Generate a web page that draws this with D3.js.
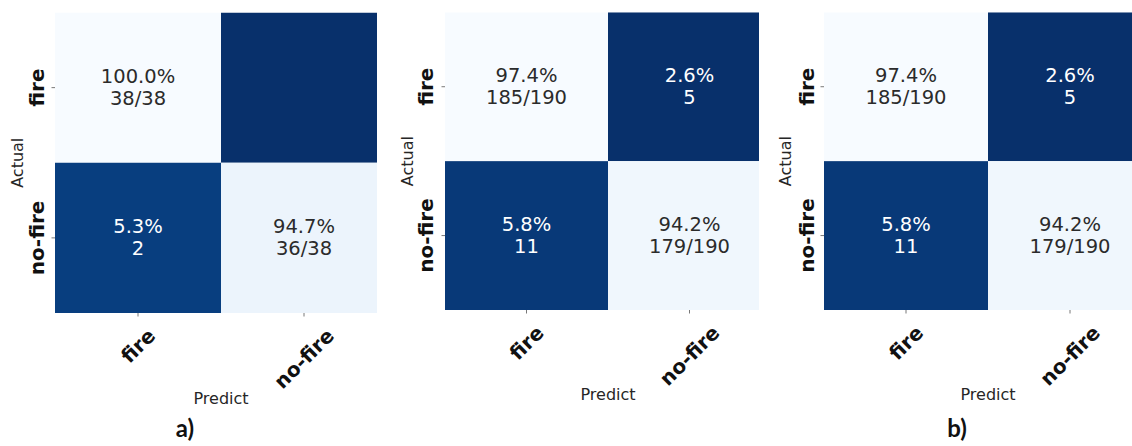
<!DOCTYPE html>
<html>
<head>
<meta charset="utf-8">
<script src="https://cdn.jsdelivr.net/npm/d3@7"></script>
<style>
  body { margin: 0; background: #fff; }
  svg { display: block; }
</style>
</head>
<body>
<svg id="chart" width="1132" height="446"></svg>
<script>
// Class names on both axes
const classes = ["fire", "no-fire"];

// Cells in row-major order: (actual fire, pred fire), (actual fire, pred no-fire),
// (actual no-fire, pred fire), (actual no-fire, pred no-fire)
const percentA = [100.0, 0.0, 5.3, 94.7];
const countsA = [38, 0, 2, 36];
const totalA = 38;

const percentB = [97.4, 2.6, 5.8, 94.2];
const countsB = [185, 5, 11, 179];
const totalB = 190;

const percentC = [97.4, 2.6, 5.8, 94.2];
const countsC = [185, 5, 11, 179];
const totalC = 190;

const panelTags = ["a)", "", "b)"];
const xTitle = "Predict";
const yTitle = "Actual";

// Layout of each heatmap (full extent; the right side may be cropped)
const layouts = [
  { x0: 55,  x1: 387,  y0: 12.5, y1: 313, cropRight: 377,  tickLabelX: 44,  titleX: 17,  xTitleY: 404, tagX: 185 },
  { x0: 445, x1: 771,  y0: 12.3, y1: 310, cropRight: 759,  tickLabelX: 433, titleX: 407, xTitleY: 399.5, tagX: 0 },
  { x0: 824, x1: 1152, y0: 12.3, y1: 310, cropRight: 1132, tickLabelX: 814, titleX: 785, xTitleY: 400, tagX: 957 }
];

const panelData = [
  { percent: percentA, counts: countsA, total: totalA },
  { percent: percentB, counts: countsB, total: totalB },
  { percent: percentC, counts: countsC, total: totalC }
];

const svg = d3.select("#chart");
const font = "DejaVu Sans";
const annotSize = 19.5;
const tickSize = 20;
const titleSize = 16;

panelData.forEach((pd, pi) => {
  const L = layouts[pi];
  const g = svg.append("g");

  const x = d3.scaleBand().domain(classes).range([L.x0, L.x1]);
  const y = d3.scaleBand().domain(classes).range([L.y0, L.y1]);
  const color = d3.scaleSequential(d3.interpolateBlues)
    .domain(d3.extent(pd.percent).reverse());

  const cells = [];
  classes.forEach((actual, r) => {
    classes.forEach((pred, c) => {
      const i = r * classes.length + c;
      cells.push({ actual, pred, diag: r === c, pct: pd.percent[i], count: pd.counts[i] });
    });
  });

  const clipId = "clip" + pi;
  svg.append("defs").append("clipPath").attr("id", clipId)
    .append("rect")
    .attr("x", L.x0).attr("y", L.y0)
    .attr("width", L.cropRight - L.x0).attr("height", L.y1 - L.y0);

  const cellG = g.append("g").attr("clip-path", `url(#${clipId})`);

  cellG.selectAll("rect.cell").data(cells).join("rect")
    .attr("class", "cell")
    .attr("x", d => x(d.pred))
    .attr("y", d => y(d.actual))
    .attr("width", x.bandwidth())
    .attr("height", y.bandwidth())
    .attr("fill", d => color(d.pct));

  // Annotations: percentage on top, count (or count/total on the diagonal) below
  const annot = cellG.selectAll("g.annot").data(cells.filter(d => d.count > 0)).join("g")
    .attr("class", "annot")
    .attr("transform", d => `translate(${x(d.pred) + x.bandwidth() / 2},${y(d.actual) + y.bandwidth() / 2})`);

  const textColor = d => (d3.hsl(color(d.pct)).l < 0.5 ? "#ffffff" : "#2b2b2b");

  annot.append("text")
    .attr("text-anchor", "middle")
    .attr("y", -5)
    .attr("font-family", font)
    .attr("font-size", annotSize)
    .attr("fill", textColor)
    .text(d => d.pct.toFixed(1) + "%");

  annot.append("text")
    .attr("text-anchor", "middle")
    .attr("y", 17.5)
    .attr("font-family", font)
    .attr("font-size", annotSize)
    .attr("fill", textColor)
    .text(d => d.diag ? `${d.count}/${pd.total}` : `${d.count}`);

  // Tick marks
  g.selectAll("line.xt").data(classes).join("line")
    .attr("x1", d => x(d) + x.bandwidth() / 2)
    .attr("x2", d => x(d) + x.bandwidth() / 2)
    .attr("y1", L.y1).attr("y2", L.y1 + 3.5)
    .attr("stroke", "#555").attr("stroke-width", 0.8);

  g.selectAll("line.yt").data(classes).join("line")
    .attr("y1", d => y(d) + y.bandwidth() / 2)
    .attr("y2", d => y(d) + y.bandwidth() / 2)
    .attr("x1", L.x0 - 3.5).attr("x2", L.x0)
    .attr("stroke", "#555").attr("stroke-width", 0.8);

  // Y tick labels, rotated vertical
  g.selectAll("text.yl").data(classes).join("text")
    .attr("transform", d => `translate(${L.tickLabelX},${y(d) + y.bandwidth() / 2}) rotate(-90)`)
    .attr("text-anchor", "middle")
    .attr("font-family", font)
    .attr("font-weight", "bold")
    .attr("font-size", tickSize)
    .attr("fill", "#111")
    .text(d => d);

  // X tick labels, rotated 45 degrees, bounding box centred under the tick
  const xl = g.selectAll("text.xl").data(classes).join("text")
    .attr("text-anchor", "middle")
    .attr("dy", "0.35em")
    .attr("font-family", font)
    .attr("font-weight", "bold")
    .attr("font-size", tickSize)
    .attr("fill", "#111")
    .text(d => d);
  xl.each(function(d) {
    const len = this.getComputedTextLength();
    const h = 0.74 * tickSize;
    const half = (len + h) / (2 * Math.SQRT2);
    const top = L.y1 + 14;
    d3.select(this).attr("transform",
      `translate(${x(d) + x.bandwidth() / 2},${top + half}) rotate(-45)`);
  });

  // Axis titles
  g.append("text")
    .attr("x", (L.x0 + L.x1) / 2)
    .attr("y", L.xTitleY)
    .attr("text-anchor", "middle")
    .attr("font-family", font)
    .attr("font-size", titleSize)
    .attr("fill", "#262626")
    .text(xTitle);

  g.append("text")
    .attr("transform", `translate(${L.titleX},${(L.y0 + L.y1) / 2}) rotate(-90)`)
    .attr("text-anchor", "middle")
    .attr("dy", "0.35em")
    .attr("font-family", font)
    .attr("font-size", titleSize)
    .attr("fill", "#262626")
    .text(yTitle);

  if (panelTags[pi]) {
    g.append("text")
      .attr("x", L.tagX)
      .attr("y", 437)
      .attr("text-anchor", "middle")
      .attr("font-family", "Lato")
      .attr("font-weight", "bold")
      .attr("font-size", 24)
      .attr("fill", "#111")
      .text(panelTags[pi]);
  }
});
</script>
</body>
</html>
